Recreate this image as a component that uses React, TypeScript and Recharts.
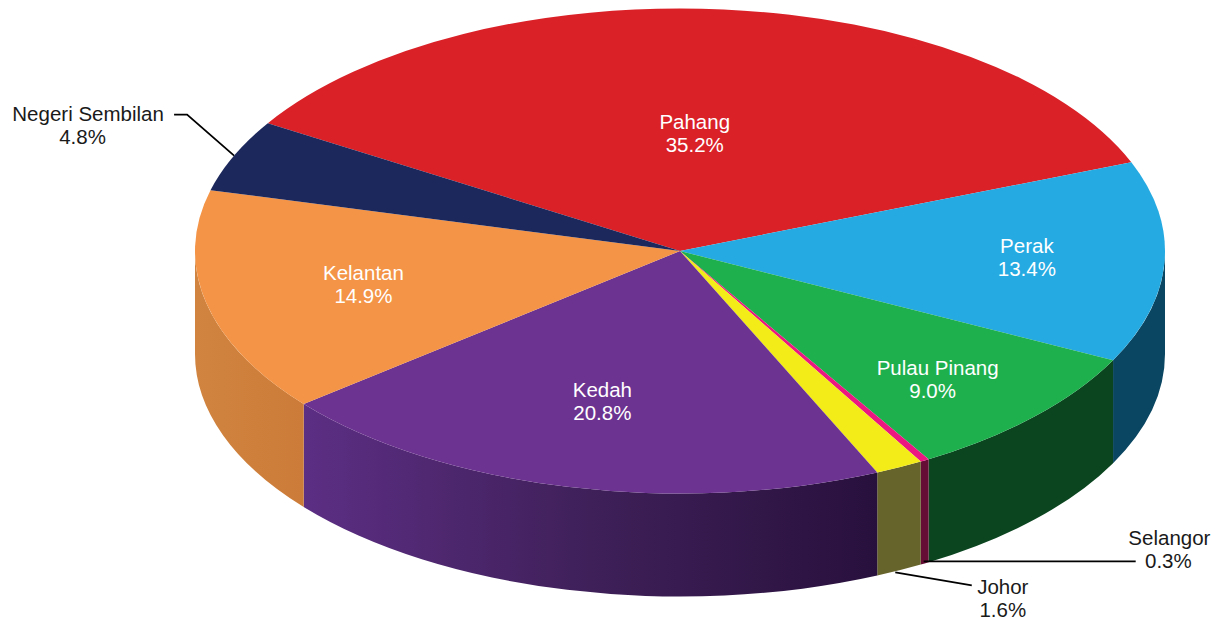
import React from "react";
import { PieChart, Pie } from "recharts";

const categories = ["Pahang", "Perak", "Pulau Pinang", "Selangor", "Johor", "Kedah", "Kelantan", "Negeri Sembilan"];
const shares = [35.2, 13.4, 9.0, 0.3, 1.6, 20.8, 14.9, 4.8];
const topColors = ["#da2128", "#25aae2", "#1fb04e", "#ec1780", "#f3ec19", "#6d3391", "#f39446", "#1c275c"];
const wallStops = [
  ["#a01a1e", "#a01a1e"],
  ["#0a4661", "#0a4661"],
  ["#0b4520", "#0b4520"],
  ["#660d35", "#660d35"],
  ["#67642b", "#67642b"],
  ["#5c2e84", "#3f2059", "#28103d"],
  ["#d0843f", "#cc7c38"],
  ["#141c42", "#141c42"],
];

const W = 1216;
const H = 620;
const CX = 680;
const CY = 251;
const RX = 485;
const SQUASH = 0.5;
const DEPTH = 103;
const START = 148.2;

type LabelLayout = { inside: boolean; f: number; dx: number; dy: number; dx2?: number; leader?: number[][] };
const labelLayout: Record<string, LabelLayout> = {
  Pahang: { inside: true, f: 0.487, dx: -6.5, dy: 0 },
  Perak: { inside: true, f: 0.716, dx: 0, dy: -1.5 },
  "Pulau Pinang": { inside: true, f: 0.723, dx: 1, dy: 9, dx2: -5 },
  Kedah: { inside: true, f: 0.64, dx: -5.5, dy: 0 },
  Kelantan: { inside: true, f: 0.668, dx: 0, dy: -1.5 },
  "Negeri Sembilan": { inside: false, f: 1, dx: -146, dy: -30.5, dx2: -5.5, leader: [[0, 0], [-47, -41], [-60, -41]] },
  Johor: { inside: false, f: 1, dx: 103.5, dy: 28.5, leader: [[-4, 2], [72.5, 15]] },
  Selangor: { inside: false, f: 1, dx: 244.7, dy: -13.5, dx2: -1, leader: [[-1, -2], [211, -2]] },
};

const data = categories.map((name, i) => ({ name, value: shares[i], index: i }));

const pt = (cx: number, cy: number, r: number, deg: number) => {
  const t = (deg * Math.PI) / 180;
  return [cx + r * Math.cos(t), cy - r * SQUASH * Math.sin(t)];
};

const TopShape = (p: any) => {
  const { cx, cy, outerRadius: r, startAngle, endAngle, fill } = p;
  const a = pt(cx, cy, r, startAngle);
  const b = pt(cx, cy, r, endAngle);
  const large = Math.abs(startAngle - endAngle) > 180 ? 1 : 0;
  return (
    <path
      d={`M${cx},${cy} L${a[0]},${a[1]} A${r},${r * SQUASH} 0 ${large} 1 ${b[0]},${b[1]} Z`}
      fill={fill}
    />
  );
};

const WallShape = (p: any) => {
  const { cx, cy, outerRadius: r, startAngle, endAngle, payload } = p;
  const hi = Math.min(startAngle, 0);
  const lo = Math.max(endAngle, -180);
  if (hi <= lo) return <g />;
  const a = pt(cx, cy, r, hi);
  const b = pt(cx, cy, r, lo);
  const ry = r * SQUASH;
  const stops = wallStops[payload.index];
  const id = `wall-${payload.index}`;
  return (
    <g>
      <defs>
        <linearGradient id={id} x1="0" y1="0" x2="1" y2="0">
          {stops.map((c, i) => (
            <stop key={i} offset={i / (stops.length - 1)} stopColor={c} />
          ))}
        </linearGradient>
      </defs>
      <path
        d={`M${a[0]},${a[1]} A${r},${ry} 0 0 1 ${b[0]},${b[1]} L${b[0]},${b[1] + DEPTH} A${r},${ry} 0 0 0 ${a[0]},${a[1] + DEPTH} Z`}
        fill={`url(#${id})`}
      />
    </g>
  );
};

const renderLabel = (p: any) => {
  const { cx, cy, outerRadius: r, midAngle, payload } = p;
  const name = payload.name;
  const lay = labelLayout[name];
  const base = pt(cx, cy, r * lay.f, midAngle);
  const ax = base[0];
  const ay = base[1] + (lay.inside ? 0 : midAngle > -180 ? DEPTH : 0);
  const tx = ax + lay.dx;
  const ty = ay + lay.dy;
  const fill = lay.inside ? "#ffffff" : "#1a1a1a";
  return (
    <g key={name}>
      {lay.leader && (
        <polyline
          points={lay.leader.map(([x, y]) => `${ax + x},${ay + y}`).join(" ")}
          fill="none"
          stroke="#000"
          strokeWidth={1.8}
        />
      )}
      <text textAnchor="middle" fontFamily="'Liberation Sans', Arial, sans-serif" fontSize={20.5} fill={fill}>
        <tspan x={tx} y={ty - 4.5}>{name}</tspan>
        <tspan x={tx + (lay.dx2 ?? 0)} y={ty + 18.5}>{payload.value.toFixed(1)}%</tspan>
      </text>
    </g>
  );
};

export default function App() {
  return (
    <div style={{ position: "absolute", left: 0, top: 0, width: W, height: H, background: "#fff" }}>
      <PieChart width={W} height={H} margin={{ top: 0, right: 0, bottom: 0, left: 0 }}>
        <Pie
          data={data}
          dataKey="value"
          nameKey="name"
          cx={CX}
          cy={CY}
          innerRadius={0}
          outerRadius={RX}
          startAngle={START}
          endAngle={START - 360}
          stroke="none"
          isAnimationActive={false}
          shape={WallShape}
          labelLine={false}
          label={false}
        />
        <Pie
          data={data.map((d, i) => ({ ...d, fill: topColors[i] }))}
          dataKey="value"
          nameKey="name"
          cx={CX}
          cy={CY}
          innerRadius={0}
          outerRadius={RX}
          startAngle={START}
          endAngle={START - 360}
          stroke="none"
          isAnimationActive={false}
          shape={TopShape}
          labelLine={false}
          label={renderLabel}
        />
      </PieChart>
    </div>
  );
}
